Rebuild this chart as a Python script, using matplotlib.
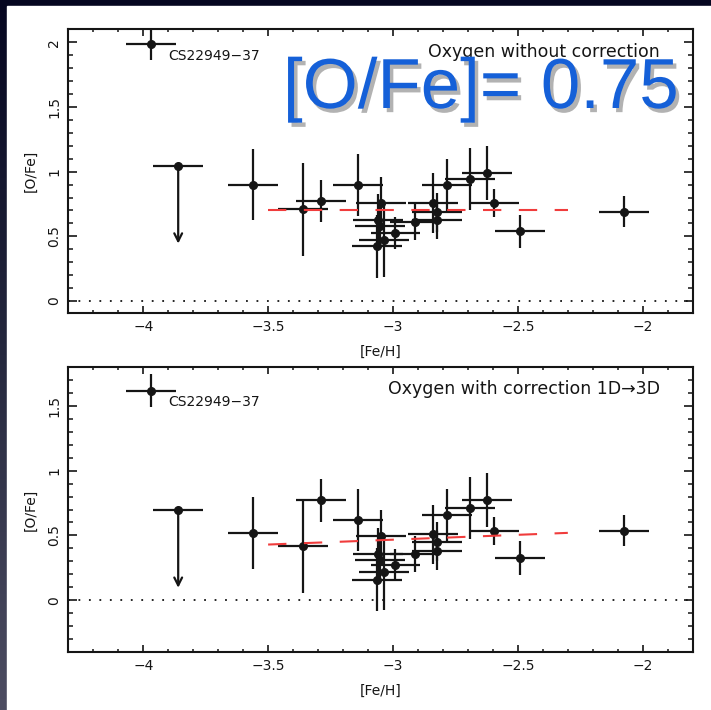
''' [O/Fe] vs [Fe/H], with and without 1D->3D correction '''
import numpy as np
import matplotlib
matplotlib.use('Agg')
import matplotlib.pyplot as plt
import matplotlib.patheffects as pe
from matplotlib.ticker import MultipleLocator, FuncFormatter
from matplotlib.patches import Rectangle

# data
feh = [-3.56, -3.36, -3.29, -3.14, -3.047, -3.06, -3.053, -3.036, -3.063, -2.99,
       -2.913, -2.84, -2.824, -2.824, -2.784, -2.693, -2.624, -2.596, -2.493, -2.076]
ofe_raw = [0.90, 0.71, 0.773, 0.897, 0.76, 0.628, 0.577, 0.474, 0.423, 0.526,
           0.608, 0.756, 0.685, 0.628, 0.897, 0.941, 0.992, 0.756, 0.538, 0.692]
ofe_3d = [0.518, 0.415, 0.77, 0.617, 0.495, 0.358, 0.312, 0.216, 0.16, 0.274,
          0.358, 0.508, 0.452, 0.383, 0.655, 0.713, 0.774, 0.535, 0.325, 0.535]
feh_err = [0.1, 0.1, 0.1, 0.1, 0.1, 0.1, 0.1, 0.1, 0.1, 0.1,
           0.1, 0.1, 0.1, 0.1, 0.1, 0.1, 0.1, 0.1, 0.1, 0.1]
ofe_err = [0.275, 0.36, 0.165, 0.24, 0.2, 0.2, 0.15, 0.29, 0.245, 0.125,
           0.14, 0.23, 0.15, 0.15, 0.2, 0.24, 0.21, 0.11, 0.13, 0.12]

# CS22949-37
cs_feh, cs_feh_err, cs_ofe_err = -3.97, 0.1, 0.125
cs_ofe = {'raw': 1.985, '3d': 1.615}

# upper limit
ul_feh, ul_feh_err, ul_len = -3.86, 0.1, 0.6
ul_ofe = {'raw': 1.044, '3d': 0.697}

# fitted trend
fit_x = [-3.5, -2.3]
fit_y = {'raw': [0.70, 0.70], '3d': [0.43, 0.52]}

panels = [
    ('raw', ofe_raw, 'Oxygen without correction', (-0.09, 2.1), [0, 0.5, 1, 1.5, 2]),
    ('3d', ofe_3d, 'Oxygen with correction 1D\u21923D', (-0.4, 1.8), [0, 0.5, 1, 1.5]),
]

W, H = 711, 710
fig = plt.figure(figsize=(W / 100, H / 100), dpi=100)

# dark slide background with the white picture pasted on it
bg = fig.add_axes([0, 0, 1, 1])
grad = np.linspace(0, 1, 256)[:, None]
bg.imshow(grad, aspect='auto', cmap=matplotlib.colors.LinearSegmentedColormap.from_list(
    'slide', ['#050620', '#25283e', '#4d4d62']), extent=(0, 1, 0, 1))
bg.add_patch(Rectangle((7 / W, 0), 1, 1 - 6 / H, color='white', zorder=2))
bg.set_xlim(0, 1)
bg.set_ylim(0, 1)
bg.axis('off')

ink = '#151515'
rects = [(68.3, 29.3, 692.7, 312.7), (68.3, 366.7, 692.7, 652.3)]

for (key, ofe, title, ylim, yticks), (x0, y0, x1, y1) in zip(panels, rects):
    ax = fig.add_axes([x0 / W, 1 - y1 / H, (x1 - x0) / W, (y1 - y0) / H])
    ax.set_xlim(-4.3, -1.8)
    ax.set_ylim(*ylim)

    # zero line
    ax.axhline(0, color=ink, lw=1.3, linestyle=(0, (1, 4.8)))

    # fitted trend
    ax.plot(fit_x, fit_y[key], color='#f03c3c', lw=1.5, linestyle=(0, (8.8, 8.4)), zorder=4)

    # stars
    ax.errorbar(feh, ofe, xerr=feh_err, yerr=ofe_err, fmt='o', ms=5.5, color=ink,
                ecolor=ink, elinewidth=1.6, capsize=0, zorder=3)
    ax.errorbar([cs_feh], [cs_ofe[key]], xerr=[cs_feh_err], yerr=[cs_ofe_err], fmt='o',
                ms=5.5, color=ink, ecolor=ink, elinewidth=1.6, capsize=0, zorder=3)
    ax.text(cs_feh + 0.07, cs_ofe[key] - 0.09, 'CS22949\u221237', fontsize=10,
            color=ink, va='center', ha='left')

    # upper limit
    ax.errorbar([ul_feh], [ul_ofe[key]], xerr=[ul_feh_err], fmt='o', ms=5.5, color=ink,
                ecolor=ink, elinewidth=1.6, capsize=0, zorder=3)
    ax.annotate('', xy=(ul_feh, ul_ofe[key] - ul_len), xytext=(ul_feh, ul_ofe[key]),
                arrowprops=dict(arrowstyle='->', color=ink, lw=1.6, shrinkA=0, shrinkB=0,
                                mutation_scale=14))

    ax.text(-1.93, ylim[1] - 0.175, title, fontsize=12.5, color=ink, ha='right', va='center')

    # frame and ticks
    ax.xaxis.set_major_locator(MultipleLocator(0.5))
    ax.xaxis.set_minor_locator(MultipleLocator(0.1))
    ax.set_yticks(yticks)
    ax.yaxis.set_minor_locator(MultipleLocator(0.1))
    ax.tick_params(axis='x', which='major', direction='in', length=5, width=1.2,
                   top=True, color=ink, labelsize=10, labelcolor=ink, pad=5)
    ax.tick_params(axis='x', which='minor', direction='in', length=2.5, width=1.1,
                   top=True, color=ink)
    ax.tick_params(axis='y', which='major', direction='in', length=6.5, width=1.2,
                   right=True, color=ink, labelsize=10, labelcolor=ink, pad=5,
                   labelrotation=90)
    ax.tick_params(axis='y', which='minor', direction='in', length=3.5, width=1.1,
                   right=True, color=ink)
    ax.xaxis.set_major_formatter(FuncFormatter(
        lambda v, pos: ('%g' % v).replace('-', '\u2212')))
    ax.yaxis.set_major_formatter(FuncFormatter(lambda v, pos: '%g' % v))
    for lab in ax.get_yticklabels():
        lab.set_va('center')
    for s in ax.spines.values():
        s.set_linewidth(1.5)
        s.set_color(ink)

    ax.set_xlabel('[Fe/H]', fontsize=10, color=ink, labelpad=8)
    ax.set_ylabel('[O/Fe]', fontsize=10, color=ink, labelpad=7)

# overlay annotation on the slide
fig.text(283 / W, 1 - 108 / H, '[O/Fe]= 0.75', fontsize=51, color='#1560d8',
         family='Liberation Sans', ha='left', va='baseline',
         path_effects=[pe.withSimplePatchShadow(offset=(2.5, -3), shadow_rgbFace='#555555',
                                                alpha=0.45)])

fig.savefig('out.png', dpi=100)
